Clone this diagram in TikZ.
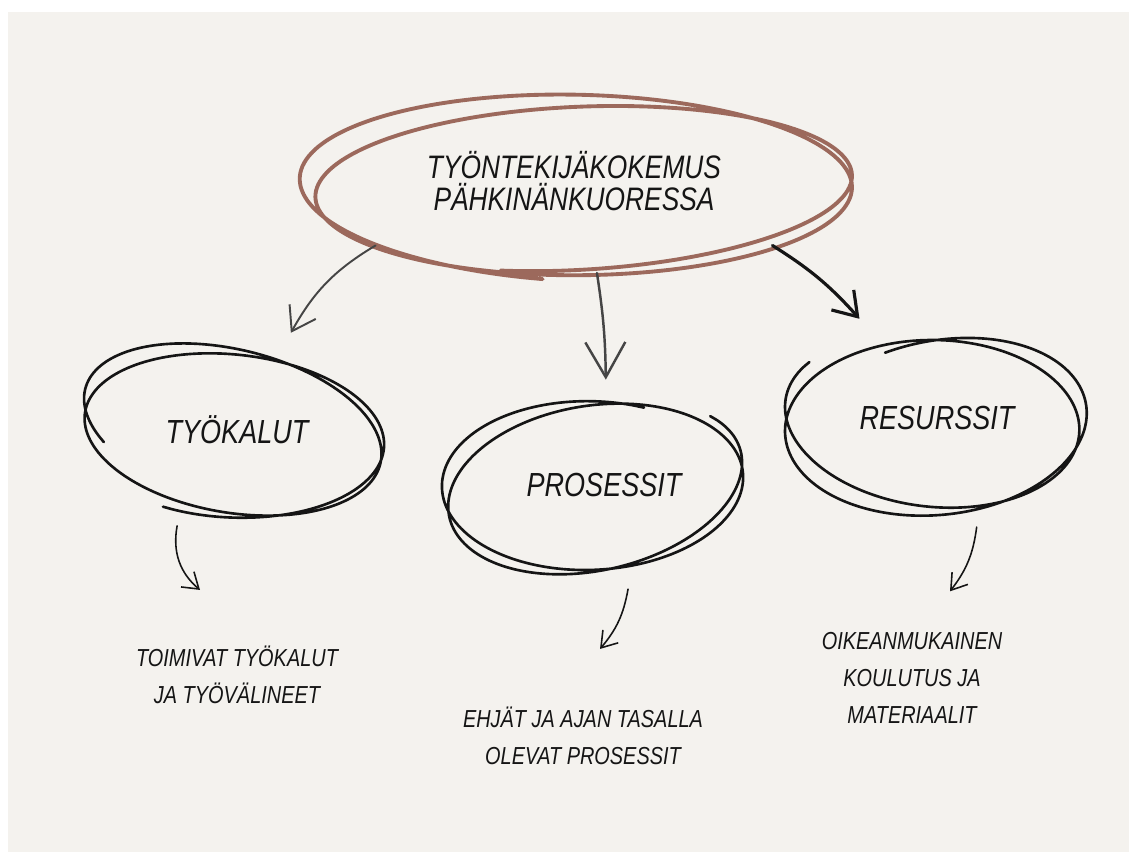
\documentclass[tikz,border=0pt]{standalone}
\usepackage{fontspec}
\setmainfont{Liberation Sans}[FakeStretch=0.81]
\usetikzlibrary{shapes.geometric,arrows.meta}
\definecolor{paper}{HTML}{F4F2EE}
\definecolor{rust}{HTML}{9C695C}
\definecolor{ink}{HTML}{151515}
\definecolor{pencil}{HTML}{454545}

\begin{document}
\begin{tikzpicture}[x=0.02cm, y=-0.02cm,
  declare function={mix(\u,\v,\w)=\u+(\v-\u)*\w;},
  hub/.style={ellipse, align=center, text=ink, font=\itshape\fontsize{19}{19}\selectfont},
  note/.style={align=center, text=ink, font=\itshape\fontsize{14}{21}\selectfont},
  rustloop/.style={draw=rust, line width=2.2pt, line cap=round, line join=round},
  inkloop/.style={draw=ink, line width=1.5pt, line cap=round, line join=round},
  thinarrow/.style={draw=pencil, line width=1.1pt, line cap=round, -{Straight Barb[length=0.45cm, width=0.6cm]}},
  midarrow/.style={draw=pencil, line width=1.4pt, line cap=round, -{Straight Barb[length=0.7cm, width=0.8cm]}},
  boldarrow/.style={draw=ink, line width=1.8pt, line cap=round, -{Straight Barb[length=0.45cm, width=0.6cm]}},
  smallarrow/.style={draw=ink, line width=0.9pt, line cap=round, -{Straight Barb[length=0.3cm, width=0.4cm]}}]
  \useasboundingbox (0,0) rectangle (1129,852);
  \fill[paper] (8,12) rectangle (1129,852);

  % main topic and the three areas
  \node[hub, minimum width=11.08cm, minimum height=3.68cm, font=\itshape\fontsize{18.5}{18.5}\selectfont] (top) at (574,181) {TYÖNTEKIJÄKOKEMUS\\PÄHKINÄNKUORESSA};
  \node[hub, minimum width=6.6cm, minimum height=4.1cm] (tools) at (237,430) {TYÖKALUT};
  \node[hub, minimum width=6.4cm, minimum height=4.2cm] (proc) at (604,485) {PROSESSIT};
  \node[hub, minimum width=6.6cm, minimum height=4.48cm] (res) at (937,418) {RESURSSIT};
  \node[note] (toolsnote) at (237,675) {TOIMIVAT TYÖKALUT\\JA TYÖVÄLINEET};
  \node[note] (procnote) at (583,736) {EHJÄT JA AJAN TASALLA\\OLEVAT PROSESSIT};
  \node[note] (resnote) at (912,678) {OIKEANMUKAINEN\\KOULUTUS JA\\MATERIAALIT};

  % scribbled loops
  \draw[rustloop, shift={(top.center)}] plot[domain=0:1, samples=170, smooth, variable=\s]
    ({mix(16,0,\s)-mix(262,278,\s)*cos(70+735*\s)},
     {mix(10,4,\s)+mix(78,96,\s)*sin(70+735*\s)-mix(-0.07,0.04,\s)*mix(262,278,\s)*cos(70+735*\s)});
  \draw[inkloop, shift={(tools.center)}] plot[domain=0:1, samples=150, smooth, variable=\s]
    ({mix(-5,-2,\s)+mix(148,150,\s)*cos(150+690*\s)},
     {mix(-2,8,\s)+mix(82,80,\s)*sin(150+690*\s)+mix(0.21,0.02,\s)*mix(148,150,\s)*cos(150+690*\s)});
  \draw[inkloop, shift={(proc.center)}] plot[domain=0:1, samples=150, smooth, variable=\s]
    ({mix(-12,-7,\s)-mix(152,145,\s)*cos(250+690*\s)},
     {mix(0,5,\s)+mix(84,82,\s)*sin(250+690*\s)-mix(0.03,-0.2,\s)*mix(152,145,\s)*cos(250+690*\s)});
  \draw[inkloop, shift={(res.center)}] plot[domain=0:1, samples=150, smooth, variable=\s]
    ({mix(0,-7,\s)+mix(152,145,\s)*cos(250+685*\s)},
     {mix(12,4,\s)+mix(90,82,\s)*sin(250+685*\s)+mix(-0.14,0.12,\s)*mix(152,145,\s)*cos(250+685*\s)});

  % arrows
  \draw[thinarrow] (top.198) to[bend right=15] (tools.61);
  \draw[midarrow] (top.-76) to[bend left=4] (proc.89);
  \draw[boldarrow] (top.-18) to[bend left=8] (res.128);
  \draw[smallarrow] (tools.-122) to[bend right=30] ([xshift=-0.74cm, yshift=1cm]toolsnote.north);
  \draw[smallarrow] (proc.-77) to[bend left=15] ([xshift=0.34cm, yshift=1.04cm]procnote.north);
  \draw[smallarrow] (res.-70) to[bend left=15] ([xshift=0.76cm, yshift=0.7cm]resnote.north);
\end{tikzpicture}
\end{document}
